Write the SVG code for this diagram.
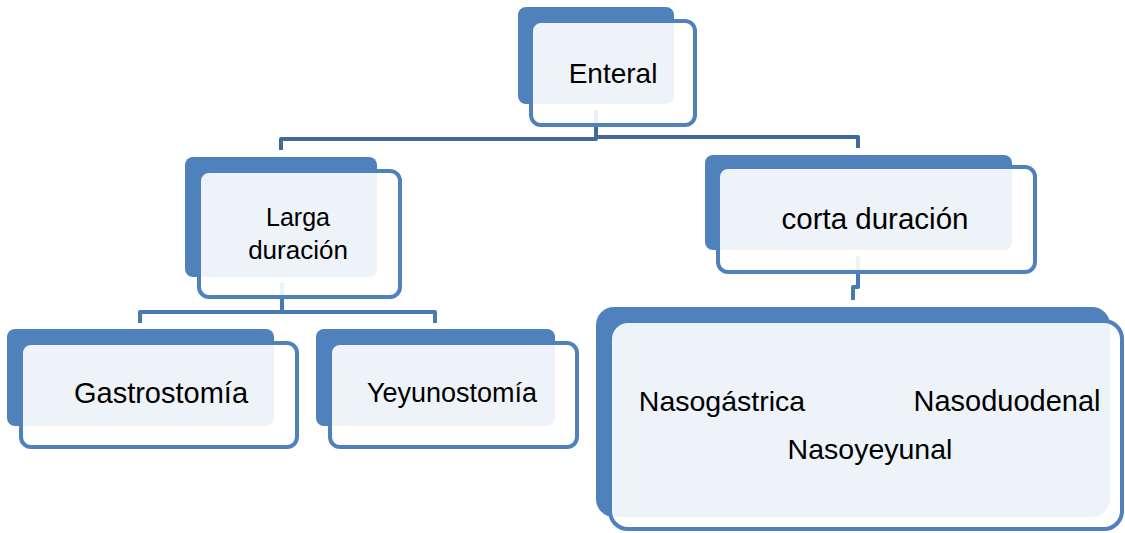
<svg xmlns="http://www.w3.org/2000/svg" width="1125" height="533" viewBox="0 0 1125 533">
<style>
.back{fill:#4F81BD}
.front{fill:#FFFFFF;fill-opacity:0.9;stroke:#4F81BD;stroke-width:4}
.conn{fill:none;stroke:#41699C;stroke-width:4;stroke-linejoin:round}
.conn2{fill:none;stroke:#4A78B2;stroke-width:4;stroke-linejoin:round}
.t{font-family:"Liberation Sans",Arial,sans-serif;fill:#000;text-anchor:middle}
</style>
<rect width="1125" height="533" fill="#FFFFFF"/>
<g id="connectors">
<path class="conn" d="M596,110 V139 H281 V150"/>
<path class="conn" d="M596,110 V137 H858 V148"/>
<path class="conn2" d="M282,283 V312 H140 V323"/>
<path class="conn2" d="M282,312 H435 V323"/>
<path class="conn2" d="M858,256 V287 H853 V300"/>
</g>
<g id="enteral">
<rect class="back" x="518" y="7" width="156" height="97" rx="8"/>
<rect class="front" x="531" y="21" width="164" height="104" rx="10"/>
<text class="t" x="613" y="83" font-size="28">Enteral</text>
</g>
<g id="larga">
<rect class="back" x="185" y="157" width="192" height="120" rx="8"/>
<rect class="front" x="199" y="171" width="201" height="126" rx="10"/>
<text class="t" x="298" y="226" font-size="25">Larga</text>
<text class="t" x="298" y="259" font-size="26">duración</text>
</g>
<g id="corta">
<rect class="back" x="705" y="155" width="307" height="95" rx="8"/>
<rect class="front" x="718" y="167" width="317" height="105" rx="10"/>
<text class="t" x="875" y="229" font-size="29.5">corta duración</text>
</g>
<g id="gastrostomia">
<rect class="back" x="7" y="329" width="267" height="97" rx="8"/>
<rect class="front" x="21" y="343" width="276" height="104" rx="10"/>
<text class="t" x="161" y="403" font-size="29">Gastrostomía</text>
</g>
<g id="yeyunostomia">
<rect class="back" x="316" y="329" width="239" height="97" rx="8"/>
<rect class="front" x="330" y="343" width="247" height="104" rx="10"/>
<text class="t" x="452" y="402" font-size="27">Yeyunostomía</text>
</g>
<g id="nasal">
<rect class="back" x="596" y="307" width="514" height="210" rx="18"/>
<rect class="front" x="610" y="321" width="512" height="208" rx="18"/>
<text class="t" x="722" y="411" font-size="28.5">Nasogástrica</text>
<text class="t" x="1007" y="411" font-size="29">Nasoduodenal</text>
<text class="t" x="870" y="459" font-size="28.5">Nasoyeyunal</text>
</g>
</svg>
